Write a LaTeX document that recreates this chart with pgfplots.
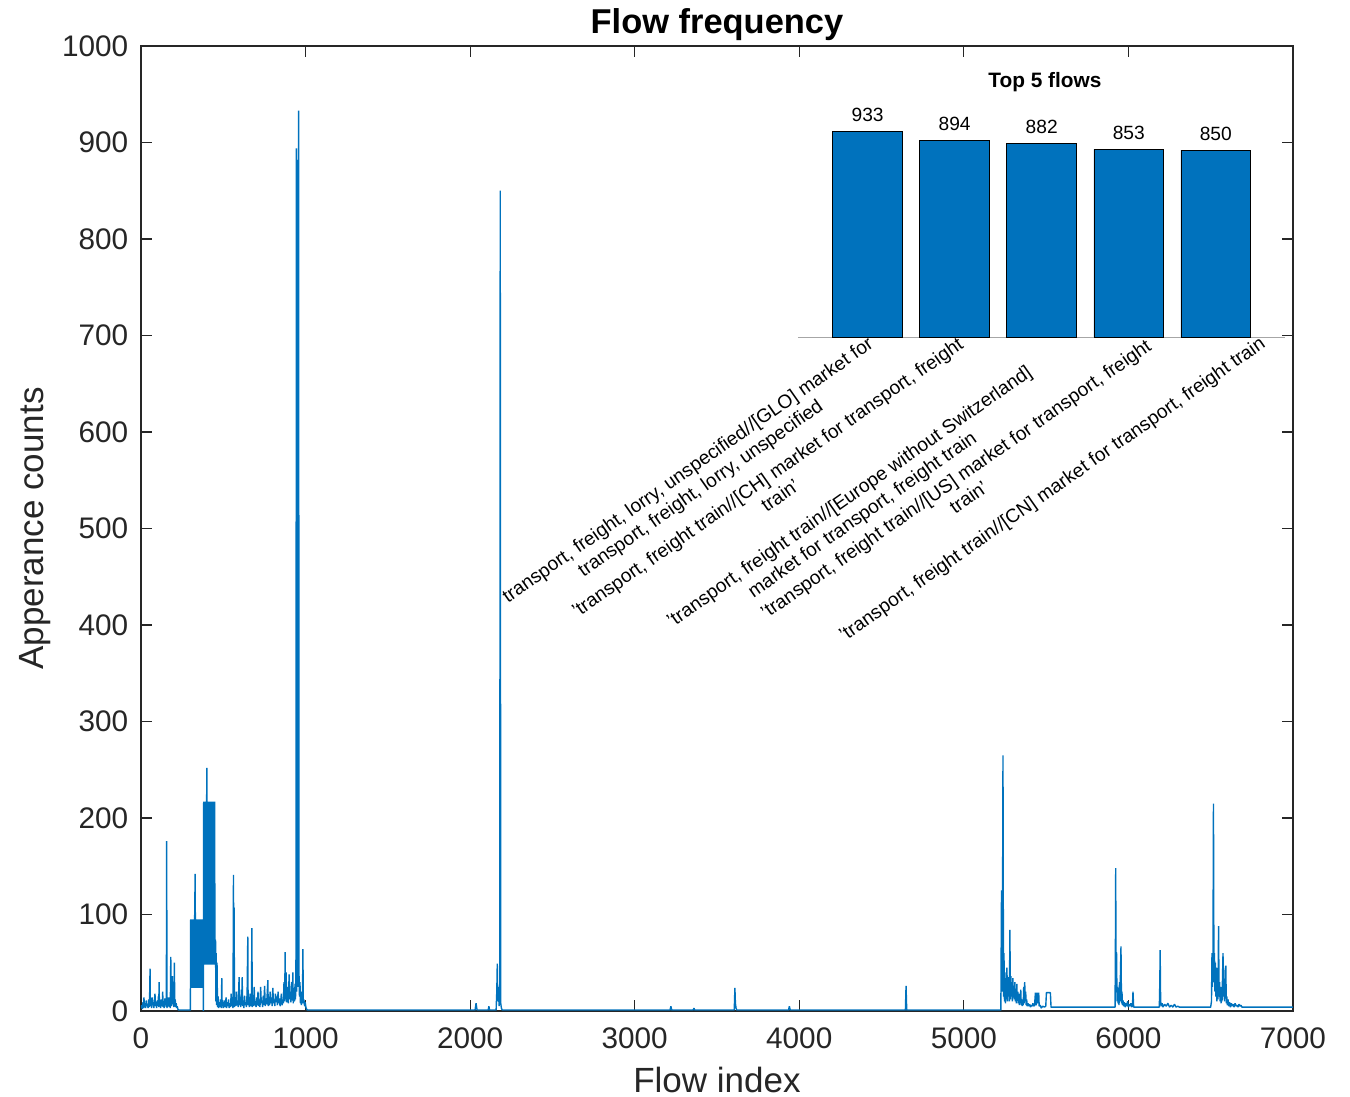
\documentclass[border=0pt]{standalone}
\usepackage{fontspec}
\setmainfont{Liberation Sans}
\usepackage{pgfplots}
\pgfplotsset{compat=1.18}
\definecolor{mblue}{RGB}{0,114,189}
\definecolor{axgray}{RGB}{38,38,38}
\pgfplotsset{every axis title shift=0pt}

\begin{document}
\begin{tikzpicture}
\begin{axis}[
    scale only axis, width=414.7pt, height=347.4pt,
    xmin=0, xmax=7000, ymin=0, ymax=1000,
    xtick={0,1000,...,7000}, ytick={0,100,...,1000},
    scaled ticks=false,
    /pgf/number format/assume math mode=true,
    /pgf/number format/1000 sep={},
    tick label style={font=\fontsize{10.7}{12}\selectfont, color=axgray},
    xticklabel style={yshift=-2.5pt},
    yticklabel style={xshift=-1.1pt},
    axis line style={axgray, line width=0.4pt},
    tick style={axgray, line width=0.4pt},
    major tick length=4pt,
    title={\bfseries Flow frequency},
    title style={font=\fontsize{12.4}{14}\selectfont, inner sep=0pt, at={(axis description cs:0.5,1.022)}, anchor=center},
    xlabel={Flow index}, ylabel={Apperance counts},
    label style={font=\fontsize{12.6}{14}\selectfont, color=axgray, inner sep=0pt},
    xlabel style={at={(axis description cs:0.5,-0.0715)}, anchor=center},
    ylabel style={at={(axis description cs:-0.092,0.5)}, anchor=center},
]
% appearance count per flow index
\addplot[mblue, line width=0.5pt, line join=bevel] coordinates {
(0,3) (4,6) (8,2) (12,9) (16,3) (18,14) (21,4) (25,8) (28,3) (32,11) (35,5) (39,7) (43,3) (47,12) (50,4) (53,20) (55,44) (57,5) (61,10) (64,3) (68,14) (71,6) (75,9) (78,3) (82,12) (85,18) (88,5) (92,8) (95,3) (99,11) (102,5) (106,15) (108,4) (110,30) (112,6) (116,9) (119,3) (123,12) (127,5) (130,8) (132,20) (134,4) (138,10) (141,3) (145,13) (148,6) (152,9) (154,4) (156,176) (158,3) (161,10) (164,5) (168,14) (171,4) (175,8) (178,3) (181,56) (183,12) (186,5) (189,20) (191,36) (193,7) (197,11) (200,4) (203,50) (205,6) (208,12) (211,4) (214,8) (217,3) (220,5) (224,2) (228,1)
(232,1) (300,1)
(302,95) (305,24) (308,95) (311,24) (314,95) (317,24) (320,95) (323,24) (326,95) (329,142) (332,24) (335,95) (338,24) (341,95) (344,24) (347,95) (350,24) (353,95) (356,24) (359,95) (362,24) (365,95) (368,24) (371,95) (374,24) (377,95) (379,0)
(381,217) (384,48) (387,217) (390,48) (393,217) (396,48) (399,217) (400,252) (402,48) (405,217) (408,48) (411,217) (414,48) (417,217) (420,48) (423,217) (426,48) (429,217) (432,48) (435,217) (438,48) (441,217) (444,48) (447,217) (450,48)
(453,74) (455,10) (457,60) (459,6) (462,50) (465,4) (469,15) (472,3) (476,9) (480,4) (484,12) (488,3) (491,34) (493,5) (497,8) (501,3) (505,11) (509,4) (513,7) (517,14) (520,3) (524,9) (528,5) (532,12) (536,3) (540,8) (544,4) (548,18) (551,5) (555,9) (559,3) (562,141) (564,10) (566,107) (568,4) (572,12) (576,5) (580,20) (583,6) (587,9) (591,4) (596,35) (598,6) (602,14) (606,4) (610,22) (613,8) (615,35) (617,5) (621,11) (625,3) (629,16) (633,6) (637,9) (641,4) (645,20) (649,77) (651,6) (655,12) (659,4) (663,18) (667,5) (671,9) (674,86) (676,4) (680,12) (684,5) (688,25) (691,6) (695,10) (699,4) (703,14) (707,6) (711,20) (715,5) (719,12) (723,4) (727,25) (731,8) (735,11) (739,4) (743,16) (747,6) (751,26) (755,5) (759,13) (763,7) (767,18) (771,32) (773,5) (777,12) (781,6) (785,20) (789,8) (793,14) (797,5) (801,24) (805,8) (809,12) (813,5) (817,18) (821,9) (825,15) (829,6) (833,20) (837,8) (841,13) (845,5) (849,10) (853,18) (857,6) (861,12) (865,8) (869,30) (873,10) (876,61) (878,12) (882,40) (885,9) (889,15) (893,25) (896,8) (900,38) (903,12) (907,20) (911,9) (915,30) (919,11) (923,40) (925,8) (929,18) (933,10) (936,28) (939,12) (942,60) (944,894) (946,20) (948,882) (950,30) (953,853) (955,25) (958,933) (960,40) (963,15) (966,30) (969,8) (972,20) (975,6) (978,14) (981,10) (984,64) (986,8) (990,12) (994,5) (998,9) (1002,4) (1006,2) (1010,1)
(2030,1) (2036,8) (2042,1) (2110,1) (2114,5) (2118,1) (2158,1) (2162,20) (2165,49) (2168,10) (2172,25) (2176,5) (2180,15) (2183,850) (2186,8) (2190,3) (2195,1) (3215,1) (3220,5) (3225,1) (3355,1) (3360,3) (3365,1) (3605,1) (3609,24) (3612,8) (3616,3) (3620,1) (3935,1) (3940,5) (3945,1) (4645,1) (4649,26) (4653,1) (5225,1)
(5229,125) (5232,20) (5235,90) (5238,265) (5241,15) (5244,60) (5247,10) (5250,40) (5253,8) (5256,30) (5259,12) (5262,45) (5265,10) (5268,35) (5271,15) (5274,28) (5277,10) (5280,84) (5283,12) (5286,36) (5289,15) (5292,30) (5295,10) (5298,34) (5301,14) (5304,25) (5307,12) (5310,30) (5313,10) (5316,22) (5319,8) (5322,28) (5325,12) (5328,20) (5331,8) (5334,18) (5337,6) (5340,15) (5343,8) (5346,22) (5349,6) (5352,12) (5355,5) (5358,10) (5361,6) (5364,25) (5367,8) (5370,30) (5373,10) (5376,20) (5379,6) (5382,12) (5385,5) (5390,8) (5395,5) (5400,7) (5405,4) (5410,6) (5415,5) (5420,8) (5425,5) (5430,6) (5435,19) (5440,6) (5445,19) (5450,8) (5455,19) (5458,5) (5465,6) (5470,3) (5480,5) (5490,4) (5498,5) (5502,19) (5526,19) (5530,4)
(5915,4) (5919,4) (5921,60) (5923,148) (5925,20) (5928,61) (5931,10) (5934,25) (5937,8) (5940,15) (5943,6) (5946,30) (5949,10) (5952,40) (5955,67) (5958,8) (5961,20) (5964,6) (5968,11) (5972,5) (5976,9) (5980,4) (5985,8) (5990,5) (5995,10) (6000,4) (6005,7) (6010,5) (6015,8) (6020,4) (6025,6) (6028,20) (6032,4) (6188,4) (6191,30) (6193,63) (6196,10) (6200,5) (6205,8) (6210,4) (6220,7) (6230,5) (6240,8) (6250,4) (6260,6) (6270,4) (6280,7) (6290,4) (6300,5) (6310,4) (6500,4)
(6505,10) (6508,60) (6511,25) (6514,55) (6517,215) (6520,30) (6523,60) (6526,20) (6529,50) (6532,15) (6535,45) (6538,10) (6541,35) (6544,12) (6548,88) (6551,15) (6554,30) (6557,10) (6560,25) (6563,8) (6566,20) (6569,10) (6572,35) (6575,60) (6578,15) (6581,30) (6584,10) (6588,42) (6592,47) (6595,8) (6598,15) (6602,6) (6606,12) (6610,5) (6615,9) (6620,4) (6625,8) (6630,5) (6636,7) (6642,4) (6648,8) (6654,5) (6660,6) (6666,4) (6672,7) (6678,5) (6684,6) (6690,4) (6700,4) (7000,4)
};
\end{axis}

% inset: top 5 flows
\begin{axis}[
    at={(236.5pt,242.6pt)}, anchor=south west,
    scale only axis, width=175.5pt, height=79.2pt,
    xmin=0.2, xmax=5.8, ymin=0, ymax=1000,
    axis y line=none, axis x line*=bottom,
    x axis line style={-, draw=gray!70, line width=0.4pt},
    xtick=\empty, ytick=\empty,
    clip=false,
    /pgf/number format/assume math mode=true,
    title={\bfseries Top 5 flows},
    title style={font=\fontsize{7.5}{9}\selectfont, at={(axis description cs:0.5066,1.16)}, anchor=center},
    ybar, bar width=0.8,
    nodes near coords,
    every node near coord/.append style={font=\fontsize{6.9}{8}\selectfont, color=black},
]
\addplot[fill=mblue, draw=black, line width=0.3pt] coordinates {(1,933) (2,894) (3,882) (4,853) (5,850)};
\begin{scope}[every node/.style={anchor=north east, align=center, inner sep=0pt, font=\fontsize{6.9}{8}\selectfont}]
\node[xshift=-0.4pt, yshift=0.8pt, rotate=35] at (axis cs:1,0) {transport, freight, lorry, unspecified//[GLO] market for\\transport, freight, lorry, unspecified};
\node[xshift=0.7pt, yshift=0.7pt, rotate=35] at (axis cs:2,0) {'transport, freight train//[CH] market for transport, freight\\train'};
\node[xshift=-5.9pt, yshift=-9.4pt, rotate=35] at (axis cs:3,0) {'transport, freight train//[Europe without Switzerland]\\market for transport, freight train};
\node[xshift=5.7pt, yshift=0pt, rotate=35] at (axis cs:4,0) {'transport, freight train//[US] market for transport, freight\\train'};
\node[xshift=15.4pt, yshift=1.0pt, rotate=35] at (axis cs:5,0) {'transport, freight train//[CN] market for transport, freight train};
\end{scope}
\end{axis}

\path (-50.76pt,-30.96pt) rectangle (435.24pt,363.96pt);
\end{tikzpicture}
\end{document}
